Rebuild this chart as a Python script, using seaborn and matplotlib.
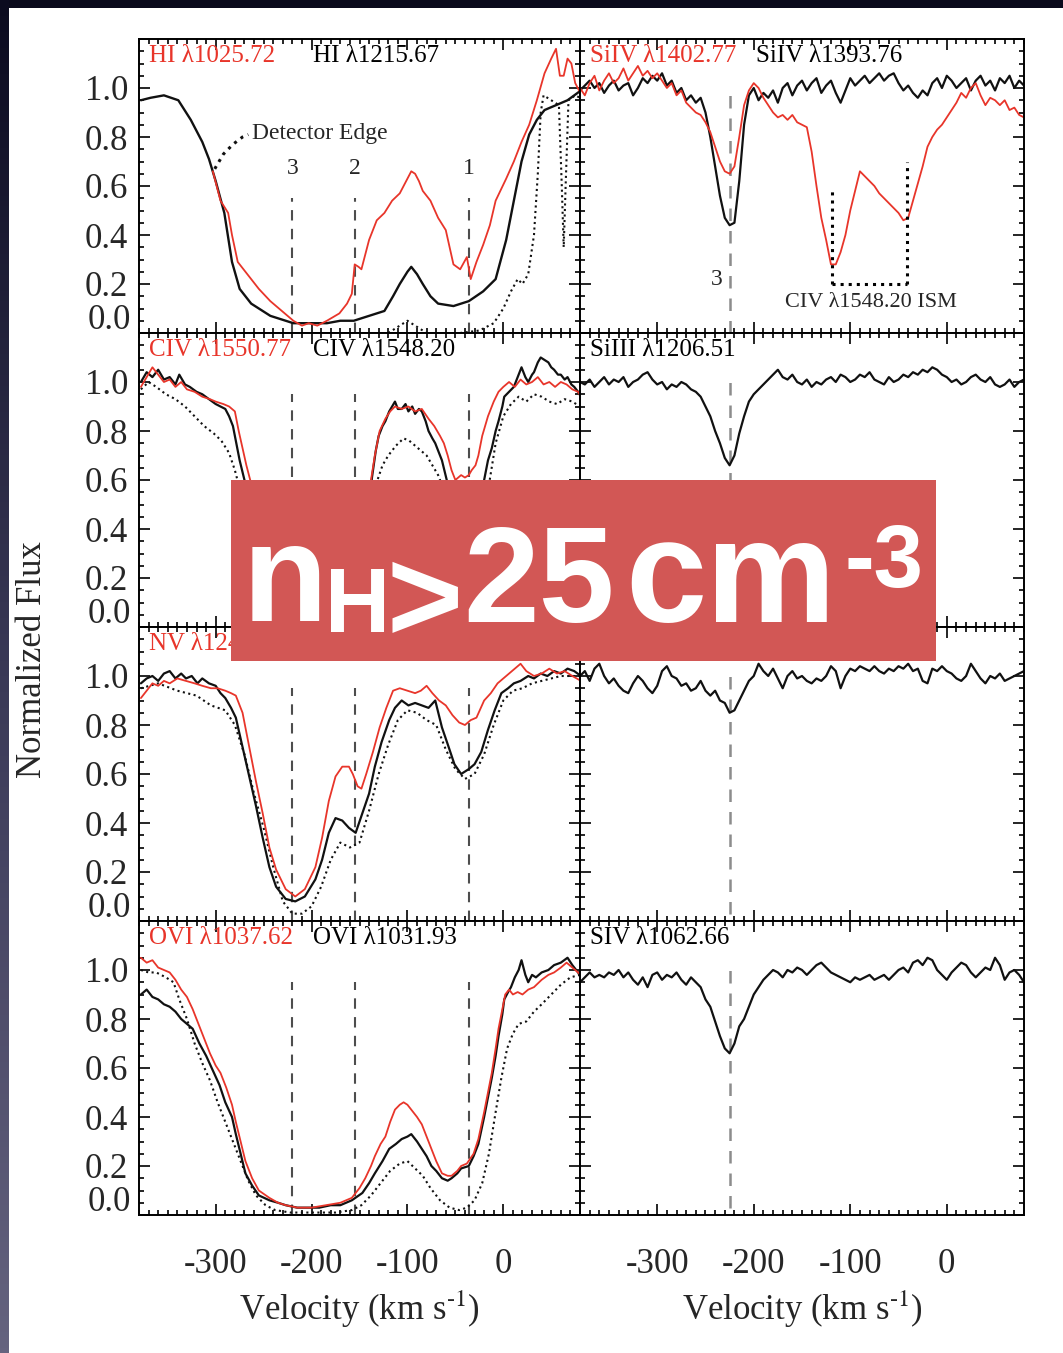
import numpy as np
import pandas as pd
import matplotlib
matplotlib.use("Agg")
import matplotlib.pyplot as plt
import seaborn as sns
from matplotlib.patches import Rectangle
from matplotlib.colors import LinearSegmentedColormap
from matplotlib.ticker import MultipleLocator, FixedLocator, FuncFormatter

# ---------------------------------------------------------------- data
v_grid_right = np.arange(-380, 81, 5)
component_v = [-220, -155, -36]
component_v_right = [-225]
component_names = ["3", "2", "1"]
x_ticks = [-300, -200, -100, 0]
y_ticks = [0.0, 0.2, 0.4, 0.6, 0.8, 1.0, 1.2]

# HI panel
hi_1215 = [(-378,0.95),(-368,0.96),(-354,0.97),(-339,0.95),(-326,0.87),(-314,0.78),(-307,0.71),(-300,0.62),
           (-291,0.49),(-283,0.29),(-275,0.18),(-263,0.12),(-243,0.07),(-219,0.04),(-200,0.04),(-184,0.04),
           (-170,0.05),(-156,0.05),(-140,0.07),(-124,0.09),(-115,0.15),(-108,0.20),(-100,0.25),(-96,0.27),
           (-90,0.24),(-84,0.20),(-76,0.15),(-68,0.12),(-52,0.11),(-36,0.13),(-21,0.17),(-8,0.22),(3,0.38),
           (11,0.54),(19,0.70),(27,0.81),(35,0.87),(43,0.91),(55,0.93),(67,0.95),(81,0.99)]
hi_1025 = [(-303,0.66),(-295,0.54),(-287,0.49),(-283,0.40),(-277,0.29),(-267,0.24),(-255,0.18),(-243,0.13),
           (-231,0.09),(-219,0.05),(-210,0.03),(-203,0.04),(-194,0.03),(-184,0.05),(-171,0.08),(-163,0.12),
           (-158,0.16),(-155,0.28),(-151,0.27),(-148,0.26),(-140,0.38),(-132,0.46),(-124,0.49),(-116,0.54),
           (-108,0.57),(-100,0.63),(-96,0.66),(-92,0.65),(-88,0.62),(-84,0.58),(-76,0.54),(-68,0.47),(-60,0.42),
           (-52,0.28),(-45,0.26),(-38,0.31),(-34,0.22),(-28,0.29),(-21,0.36),(-14,0.44),(-8,0.54),(3,0.63),
           (11,0.70),(19,0.78),(27,0.85),(35,0.95),(43,1.06),(50,1.12),(55,1.16),(59,1.05),(63,1.05),
           (67,1.12),(71,1.10),(75,1.02),(79,0.99)]
hi_other = [(-45,0.0),(-25,0.01),(-10,0.04),(0,0.10),(8,0.17),(15,0.22),(20,0.20),(26,0.24),(32,0.40),
            (36,0.65),(39,0.90),(42,0.97),(50,0.95),(58,0.93),(61,0.60),(63,0.35),(65,0.60),(68,0.95),
            (75,0.97),(80,0.96)]
hi_other_b = [(-120,0.0),(-108,0.03),(-100,0.05),(-92,0.03),(-80,0.0)]
detector_edge = [(-301,0.67),(-292,0.73),(-282,0.77),(-272,0.80),(-266,0.81)]

# SiIV panel
siiv_1393 = [0.99,1.01,1.03,1.00,1.02,0.98,1.01,1.03,0.99,1.01,
             1.02,0.97,1.00,1.04,1.02,1.05,1.03,1.06,1.01,1.03,
             0.98,1.00,0.95,0.97,0.94,0.96,0.90,0.80,0.68,0.56,
             0.47,0.44,0.45,0.62,0.85,0.97,1.00,0.95,0.98,0.96,
             0.99,0.94,1.00,1.02,0.97,1.01,1.03,0.99,1.02,1.04,
             0.98,1.01,1.03,0.98,0.94,0.99,1.04,1.01,1.03,1.05,
             1.02,1.04,1.06,1.03,1.05,1.06,1.02,0.99,1.01,0.98,
             0.96,0.99,0.97,1.02,1.04,1.00,1.05,1.03,1.00,1.02,
             1.04,0.99,1.03,1.05,1.01,1.03,0.99,1.04,1.02,1.05,
             1.00,1.03,1.01]
siiv_1402 = [1.00,0.97,1.02,1.05,0.99,1.03,1.06,1.02,1.04,1.08,
             1.03,1.06,1.09,1.05,1.07,1.04,1.06,1.03,1.00,1.02,
             0.97,0.99,0.94,0.92,0.90,0.89,0.86,0.82,0.76,0.70,
             0.66,0.65,0.68,0.80,0.93,0.99,1.02,1.00,0.96,0.93,
             0.90,0.88,0.89,0.87,0.89,0.86,0.85,0.84,0.74,0.60,
             0.47,0.38,0.28,0.28,0.33,0.40,0.50,0.58,0.66,0.64,
             0.62,0.60,0.57,0.55,0.53,0.51,0.49,0.46,0.47,0.54,
             0.61,0.68,0.76,0.80,0.83,0.85,0.88,0.91,0.94,0.98,
             0.96,1.00,1.02,0.97,0.93,0.96,0.95,0.93,0.95,0.91,
             0.92,0.89,0.88]
ism_v = [-119, -41]
ism_top = [0.58, 0.70]
ism_base = 0.20

# CIV panel
civ_1548 = [(-378,1.00),(-372,1.04),(-366,1.02),(-360,1.05),(-354,1.01),(-348,1.02),(-342,0.99),(-338,1.03),
            (-332,0.99),(-327,0.98),(-320,0.96),(-314,0.95),(-307,0.93),(-300,0.91),(-295,0.90),(-290,0.89),
            (-286,0.86),(-282,0.82),(-278,0.74),(-275,0.68),(-270,0.60),(-265,0.48),(-258,0.32),(-250,0.18),
            (-240,0.08),(-230,0.04),(-215,0.03),(-200,0.03),(-185,0.04),(-170,0.06),(-160,0.10),(-150,0.25),
            (-142,0.45),(-137,0.61),(-133,0.72),(-130,0.78),(-126,0.82),(-123,0.84),(-119,0.88),(-116,0.90),
            (-113,0.92),(-110,0.89),(-106,0.89),(-102,0.91),(-99,0.88),(-95,0.90),(-92,0.87),(-88,0.89),
            (-85,0.88),(-81,0.84),(-78,0.80),(-74,0.77),(-71,0.75),(-67,0.71),(-64,0.68),(-59,0.60),(-55,0.48),
            (-48,0.30),(-40,0.22),(-33,0.25),(-27,0.40),(-20,0.60),(-16,0.68),(-12,0.73),(-8,0.80),(-5,0.84),
            (-1,0.90),(1,0.94),(6,0.96),(11,0.98),(15,1.02),(19,1.06),(23,1.02),(26,1.00),(30,1.03),(32,1.04),
            (36,1.08),(39,1.10),(43,1.09),(47,1.08),(50,1.06),(53,1.05),(57,1.03),(60,1.03),(64,1.01),
            (67,1.02),(71,0.99),(74,0.98),(78,0.96),(81,0.94)]
civ_1550 = [(-378,0.98),(-372,1.02),(-366,1.06),(-360,1.03),(-354,1.00),(-348,1.01),(-342,0.98),(-336,1.00),
            (-330,0.97),(-322,0.96),(-314,0.94),(-306,0.93),(-300,0.92),(-292,0.91),(-286,0.90),(-280,0.88),
            (-276,0.80),(-272,0.73),(-268,0.66),(-264,0.60),(-258,0.45),(-250,0.28),(-240,0.12),(-230,0.05),
            (-215,0.03),(-200,0.03),(-185,0.04),(-170,0.06),(-158,0.12),(-148,0.32),(-140,0.55),(-134,0.70),
            (-129,0.80),(-123,0.85),(-118,0.88),(-113,0.90),(-106,0.89),(-99,0.90),(-92,0.88),(-85,0.89),
            (-78,0.85),(-72,0.82),(-66,0.78),(-62,0.75),(-58,0.70),(-54,0.64),(-50,0.60),(-44,0.62),(-40,0.61),
            (-36,0.62),(-33,0.64),(-29,0.66),(-26,0.70),(-22,0.78),(-16,0.86),(-10,0.92),(-5,0.96),(0,0.98),
            (6,1.00),(12,0.98),(18,1.01),(24,0.99),(30,1.00),(36,1.02),(42,0.99),(48,1.00),(54,0.98),
            (60,1.00),(66,0.99),(72,0.97),(78,0.96),(81,0.94)]
civ_other = [(-378,0.97),(-370,1.00),(-362,0.98),(-352,0.95),(-342,0.93),(-332,0.90),(-322,0.86),(-312,0.82),
             (-302,0.79),(-294,0.76),(-286,0.71),(-280,0.64),(-274,0.55),(-266,0.40),(-256,0.22),(-245,0.08),
             (-230,0.02),(-170,0.02),(-158,0.06),(-148,0.20),(-140,0.42),(-133,0.58),(-126,0.66),(-120,0.70),
             (-112,0.74),(-104,0.77),(-98,0.76),(-92,0.74),(-86,0.72),(-80,0.70),(-74,0.66),(-68,0.62),
             (-62,0.56),(-55,0.42),(-48,0.28),(-40,0.18),(-30,0.22),(-22,0.40),(-15,0.58),(-8,0.75),(0,0.86),
             (8,0.91),(16,0.94),(24,0.92),(32,0.95),(40,0.94),(48,0.92),(56,0.91),(64,0.93),(72,0.92),(80,0.90)]

# SiIII panel
siiii_1206 = [1.00,0.99,1.01,0.98,1.00,1.02,0.99,1.01,1.00,1.02,
              0.98,1.00,1.01,1.03,1.04,1.01,0.99,1.00,0.97,0.99,
              0.98,1.00,0.99,0.97,0.96,0.94,0.90,0.86,0.80,0.75,
              0.69,0.66,0.70,0.79,0.86,0.92,0.95,0.97,0.99,1.01,
              1.03,1.05,1.02,1.01,1.03,1.00,0.99,1.01,0.98,1.00,
              0.99,1.01,1.02,1.00,1.03,1.02,1.00,1.01,1.03,1.02,
              1.04,1.01,1.00,0.99,1.02,1.00,1.01,1.03,1.02,1.04,
              1.03,1.05,1.04,1.06,1.05,1.03,1.02,1.00,1.01,0.99,
              1.00,1.02,1.03,1.01,1.00,1.02,0.99,0.98,0.99,1.01,
              0.98,1.00,1.01]

# NV panel
nv_1238 = [(-378,0.97),(-372,0.99),(-366,1.00),(-360,0.98),(-354,1.01),(-348,1.02),(-342,0.99),(-336,1.01),
           (-331,0.99),(-325,1.00),(-319,0.97),(-314,0.99),(-307,0.97),(-300,0.96),(-295,0.93),(-290,0.91),
           (-284,0.87),(-279,0.83),(-272,0.71),(-265,0.59),(-258,0.47),(-251,0.34),(-244,0.22),(-237,0.14),
           (-227,0.09),(-217,0.08),(-207,0.10),(-196,0.17),(-189,0.25),(-182,0.36),(-175,0.42),(-168,0.41),
           (-161,0.38),(-154,0.36),(-147,0.44),(-140,0.52),(-134,0.63),(-127,0.73),(-119,0.82),(-113,0.87),
           (-106,0.90),(-99,0.88),(-92,0.89),(-85,0.88),(-78,0.87),(-71,0.90),(-64,0.79),(-57,0.71),(-51,0.64),
           (-44,0.60),(-36,0.62),(-30,0.64),(-23,0.69),(-16,0.78),(-9,0.86),(-2,0.93),(5,0.95),(11,0.97),
           (18,0.98),(26,1.00),(32,0.99),(39,1.01),(46,1.00),(53,1.02),(60,1.01),(67,1.03),(74,1.02),(81,1.00)]
nv_1242 = [(-378,0.91),(-372,0.94),(-366,0.97),(-360,0.96),(-354,0.98),(-348,0.97),(-340,0.99),(-331,0.98),
           (-322,0.97),(-314,0.96),(-305,0.95),(-298,0.95),(-290,0.94),(-284,0.93),(-279,0.92),(-275,0.88),
           (-272,0.85),(-265,0.71),(-258,0.57),(-251,0.44),(-244,0.30),(-237,0.21),(-227,0.13),(-217,0.10),
           (-207,0.13),(-196,0.22),(-189,0.34),(-182,0.49),(-175,0.59),(-168,0.63),(-161,0.63),(-157,0.60),
           (-152,0.55),(-148,0.54),(-143,0.60),(-136,0.69),(-129,0.79),(-122,0.87),(-115,0.94),(-108,0.95),
           (-100,0.94),(-92,0.93),(-86,0.94),(-80,0.96),(-74,0.93),(-67,0.90),(-60,0.88),(-53,0.84),(-46,0.81),
           (-40,0.80),(-34,0.82),(-28,0.83),(-20,0.90),(-13,0.93),(-6,0.97),(3,1.00),(12,1.03),(18,1.05),
           (24,1.02),(32,1.00),(40,1.01),(48,1.03),(56,1.01),(64,1.02),(72,1.00),(81,0.98)]
nv_other = [(-378,0.95),(-360,0.97),(-340,0.94),(-320,0.92),(-305,0.88),(-290,0.86),(-280,0.80),(-270,0.68),
            (-260,0.52),(-250,0.38),(-240,0.22),(-230,0.08),(-220,0.03),(-210,0.03),(-200,0.06),(-190,0.14),
            (-180,0.25),(-170,0.32),(-160,0.30),(-150,0.32),(-140,0.45),(-130,0.60),(-120,0.72),(-110,0.82),
            (-100,0.86),(-90,0.85),(-80,0.82),(-70,0.80),(-60,0.70),(-50,0.62),(-40,0.58),(-30,0.60),
            (-20,0.68),(-10,0.80),(0,0.90),(10,0.94),(20,0.95),(30,0.97),(40,0.98),(60,1.00),(80,1.00)]

# row 3, right panel (its label is covered in the reference)
row3_right = [1.00,1.02,0.98,1.03,1.05,1.00,0.97,0.99,0.96,0.94,
              0.93,0.97,1.00,0.98,0.95,0.93,0.96,1.02,1.04,1.00,
              0.99,0.96,0.97,0.94,0.95,0.98,0.94,0.92,0.94,0.90,
              0.89,0.85,0.86,0.90,0.94,0.98,1.00,1.05,1.02,1.00,
              1.03,0.99,0.95,1.00,1.02,0.99,1.00,0.98,0.97,0.99,
              0.98,1.00,1.04,1.02,0.95,1.00,1.03,1.02,1.04,1.03,
              1.02,1.04,1.02,1.01,1.03,1.02,1.04,1.03,1.05,1.02,
              1.03,0.98,0.97,1.03,1.02,1.04,1.02,1.01,0.99,0.98,
              1.00,1.05,1.02,0.99,0.97,1.00,0.99,1.01,0.98,0.99,
              1.00,1.01,1.02]

# OVI panel
ovi_1031 = [(-378,0.90),(-372,0.92),(-366,0.89),(-360,0.88),(-354,0.86),(-348,0.85),(-342,0.83),(-336,0.80),
            (-330,0.78),(-324,0.76),(-317,0.70),(-310,0.65),(-303,0.59),(-296,0.53),(-290,0.46),(-283,0.40),
            (-279,0.33),(-274,0.25),(-269,0.17),(-262,0.12),(-255,0.08),(-244,0.06),(-235,0.05),(-227,0.04),
            (-215,0.03),(-200,0.03),(-192,0.03),(-180,0.04),(-170,0.04),(-158,0.06),(-147,0.09),(-140,0.13),
            (-134,0.17),(-126,0.22),(-119,0.27),(-112,0.29),(-106,0.31),(-100,0.32),(-96,0.33),(-90,0.30),
            (-85,0.27),(-80,0.24),(-75,0.20),(-70,0.18),(-64,0.15),(-58,0.14),(-54,0.15),(-48,0.17),(-44,0.19),
            (-36,0.20),(-31,0.24),(-26,0.29),(-20,0.40),(-16,0.48),(-12,0.56),(-8,0.65),(-5,0.73),(-1,0.82),
            (1,0.88),(5,0.91),(8,0.93),(12,0.97),(16,1.00),(19,1.04),(23,0.98),(26,0.95),(30,0.98),(34,0.97),
            (40,0.99),(47,1.00),(53,1.02),(60,1.03),(67,1.05),(72,1.02),(78,0.99),(81,0.97)]
ovi_1037 = [(-378,1.05),(-372,1.03),(-366,1.04),(-360,1.01),(-354,1.00),(-348,0.99),(-342,0.96),(-336,0.92),
            (-330,0.89),(-324,0.84),(-318,0.78),(-312,0.72),(-306,0.66),(-300,0.61),(-295,0.58),(-289,0.52),
            (-283,0.45),(-279,0.38),(-274,0.30),(-269,0.22),(-262,0.15),(-255,0.10),(-244,0.07),(-235,0.05),
            (-227,0.04),(-215,0.03),(-200,0.03),(-185,0.04),(-170,0.05),(-158,0.07),(-150,0.11),(-144,0.15),
            (-138,0.20),(-134,0.24),(-128,0.29),(-123,0.32),(-118,0.38),(-113,0.43),(-108,0.45),(-104,0.46),
            (-100,0.45),(-96,0.43),(-90,0.40),(-85,0.37),(-80,0.32),(-75,0.27),(-70,0.22),(-64,0.17),(-58,0.16),
            (-54,0.16),(-48,0.18),(-44,0.20),(-38,0.21),(-31,0.25),(-26,0.31),(-20,0.42),(-16,0.50),(-12,0.58),
            (-8,0.68),(-5,0.76),(-1,0.84),(2,0.90),(6,0.92),(10,0.90),(15,0.91),(20,0.90),(26,0.92),(32,0.93),
            (40,0.96),(47,0.98),(53,0.99),(60,1.01),(66,1.03),(72,1.01),(78,0.99),(81,0.98)]
ovi_other = [(-378,1.00),(-370,0.99),(-362,0.99),(-352,0.97),(-344,0.95),(-338,0.88),(-330,0.80),(-322,0.70),
             (-314,0.62),(-306,0.55),(-298,0.46),(-290,0.38),(-282,0.30),(-274,0.22),(-266,0.14),(-258,0.08),
             (-248,0.04),(-238,0.02),(-222,0.01),(-200,0.01),(-175,0.01),(-158,0.02),(-148,0.04),(-138,0.08),
             (-128,0.13),(-118,0.18),(-108,0.21),(-100,0.22),(-92,0.19),(-84,0.16),(-76,0.11),(-66,0.06),
             (-56,0.03),(-46,0.02),(-38,0.03),(-30,0.06),(-22,0.13),(-15,0.25),(-8,0.42),(-2,0.56),(4,0.68),
             (10,0.74),(16,0.78),(24,0.79),(32,0.83),(40,0.86),(50,0.90),(60,0.94),(70,0.97),(80,0.98)]

# SIV panel
siv_1062 = [0.95,0.97,0.99,0.97,0.98,0.97,0.99,0.98,1.00,0.97,
            0.99,0.96,0.94,0.97,0.93,0.98,0.99,0.96,0.98,0.97,
            0.99,0.96,0.94,0.97,0.95,0.93,0.88,0.85,0.79,0.73,
            0.68,0.66,0.70,0.77,0.80,0.85,0.90,0.93,0.96,0.98,
            1.00,0.99,0.97,1.00,0.99,1.01,1.00,0.98,1.00,1.02,
            1.03,1.01,0.99,0.98,0.97,0.96,0.95,0.97,0.96,0.97,
            0.98,0.96,0.97,0.98,0.96,0.98,1.00,1.01,0.99,1.03,
            1.04,1.02,1.05,1.04,1.00,0.98,0.96,0.99,1.01,1.03,
            1.02,0.99,0.97,0.99,1.01,1.00,1.05,1.02,0.96,0.99,
            1.00,0.98,0.95]

# panel labels: (red label, black label); None where nothing is visible
labels = {
    (0, 0): ("HI λ1025.72", "HI λ1215.67"),
    (0, 1): ("SiIV λ1402.77", "SiIV λ1393.76"),
    (1, 0): ("CIV λ1550.77", "CIV λ1548.20"),
    (1, 1): (None, "SiIII λ1206.51"),
    (2, 0): ("NV λ1242.80", None),
    (3, 0): ("OVI λ1037.62", "OVI λ1031.93"),
    (3, 1): (None, "SIV λ1062.66"),
}

# ---------------------------------------------------------------- style
sns.set_theme(style="ticks")
plt.rcParams["font.family"] = ["Liberation Serif", "DejaVu Serif"]
plt.rcParams["mathtext.fontset"] = "stix"
plt.rcParams["axes.unicode_minus"] = False

RED = "#E8352A"
BLACK = "#111111"

W, H, DPI = 1063, 1353, 100
fig = plt.figure(figsize=(W / DPI, H / DPI), dpi=DPI, facecolor="white")

def fx(px):
    return px / W

def fy(py):
    return 1 - py / H

col_x = [(139, 580), (580, 1024)]
row_y = [39, 333, 627, 921, 1215]


def draw(ax, pairs=None, v=None, f=None, color=BLACK, lw=1.6, ls="-"):
    if pairs is not None:
        df = pd.DataFrame(pairs, columns=["v", "f"])
    else:
        df = pd.DataFrame({"v": v, "f": f})
    sns.lineplot(data=df, x="v", y="f", ax=ax, color=color, lw=lw, linestyle=ls,
                 estimator=None, sort=False, legend=False)
    ax.set_xlabel("")
    ax.set_ylabel("")


axes = {}
for r in range(4):
    for c in range(2):
        x0, x1 = col_x[c]
        y0, y1 = row_y[r], row_y[r + 1]
        ax = fig.add_axes([fx(x0), fy(y1), (x1 - x0) / W, (y1 - y0) / H])
        axes[(r, c)] = ax

# ---------------------------------------------------------------- reference lines
for r in range(4):
    ax = axes[(r, 0)]
    top = 0.55 if r == 0 else 0.95
    ax.vlines(component_v, 0.0, top, colors="0.3", linestyles=(0, (5, 4)), lw=1.5, zorder=1)
    axr = axes[(r, 1)]
    axr.vlines(component_v_right, 0.03 if r else 0.0, 1.0, colors="0.55",
               linestyles=(0, (5, 4)), lw=1.8, zorder=1)

# ---------------------------------------------------------------- spectra
ax = axes[(0, 0)]
draw(ax, hi_other, ls=":", lw=1.5)
draw(ax, hi_other_b, ls=":", lw=1.5)
draw(ax, detector_edge, ls=":", lw=2.2)
draw(ax, hi_1215, lw=1.7)
draw(ax, hi_1025, color=RED, lw=1.3)
ax.text(-262, 0.815, "Detector Edge", fontsize=17, ha="left", va="center")
for cv, name in zip(component_v, component_names):
    ax.text(cv, 0.67, name, fontsize=17, ha="center", va="center")

ax = axes[(0, 1)]
draw(ax, v=v_grid_right, f=siiv_1393, lw=1.6)
draw(ax, v=v_grid_right, f=siiv_1402, color=RED, lw=1.3)
ax.vlines(ism_v, ism_base, ism_top, colors="black", linestyles=":", lw=2.2)
ax.hlines(ism_base, ism_v[0], ism_v[1], colors="black", linestyles=":", lw=2.2)
ax.text(-79, 0.125, "CIV λ1548.20 ISM", fontsize=16, ha="center", va="center")
ax.text(-238, 0.22, "3", fontsize=17, ha="center", va="center")

ax = axes[(1, 0)]
draw(ax, civ_other, ls=":", lw=1.5)
draw(ax, civ_1548, lw=1.6)
draw(ax, civ_1550, color=RED, lw=1.3)

ax = axes[(1, 1)]
draw(ax, v=v_grid_right, f=siiii_1206, lw=1.6)

ax = axes[(2, 0)]
draw(ax, nv_other, ls=":", lw=1.5)
draw(ax, nv_1238, lw=1.6)
draw(ax, nv_1242, color=RED, lw=1.3)

ax = axes[(2, 1)]
draw(ax, v=v_grid_right, f=row3_right, lw=1.6)

ax = axes[(3, 0)]
draw(ax, ovi_other, ls=":", lw=1.5)
draw(ax, ovi_1031, lw=1.6)
draw(ax, ovi_1037, color=RED, lw=1.3)

ax = axes[(3, 1)]
draw(ax, v=v_grid_right, f=siv_1062, lw=1.6)

# ---------------------------------------------------------------- axes styling
for (r, c), ax in axes.items():
    ax.set_xlim(-380, 80)
    ax.set_ylim(0.0, 1.2)
    ax.set_xlabel("")
    ax.set_ylabel("")
    ax.xaxis.set_major_locator(FixedLocator(x_ticks))
    ax.xaxis.set_minor_locator(MultipleLocator(10))
    ax.yaxis.set_major_locator(FixedLocator(y_ticks))
    ax.yaxis.set_minor_locator(MultipleLocator(0.05))
    ax.tick_params(which="both", direction="in", top=True, right=True,
                   width=1.2, color="black")
    ax.tick_params(which="major", length=8)
    ax.tick_params(which="minor", length=3.5)
    ax.tick_params(axis="y", labelsize=25, pad=8)
    ax.tick_params(axis="x", labelsize=25, pad=24)
    for s in ax.spines.values():
        s.set_linewidth(1.4)
        s.set_color("black")
    if c == 0:
        ax.yaxis.set_major_formatter(FuncFormatter(
            lambda val, pos: "" if (val < 0.1 or val > 1.1) else f"{val:.1f}"))
        ax.annotate("0.0", xy=(0, 0.0), xycoords=("axes fraction", "data"),
                    xytext=(-6, 9), textcoords="offset points",
                    ha="right", va="center", fontsize=25)
    else:
        ax.yaxis.set_major_formatter(FuncFormatter(lambda val, pos: ""))
    if r < 3:
        ax.xaxis.set_major_formatter(FuncFormatter(lambda val, pos: ""))
    else:
        ax.xaxis.set_major_formatter(FuncFormatter(lambda val, pos: f"{val:.0f}"))

# panel labels
for (r, c), (red_lab, blk_lab) in labels.items():
    ax = axes[(r, c)]
    if red_lab:
        ax.text(-370, 1.13, red_lab, color=RED, fontsize=18, ha="left", va="center")
        if blk_lab:
            ax.text(-198, 1.13, blk_lab, color="black", fontsize=18, ha="left", va="center")
    elif blk_lab:
        ax.text(-370, 1.13, blk_lab, color="black", fontsize=18, ha="left", va="center")

# axis titles
fig.text(fx(33), fy(660), "Normalized Flux", rotation=90, fontsize=25, ha="center", va="center")
for cx in (359, 802):
    fig.text(fx(cx), fy(1309), r"Velocity (km s$^{\text{-1}}$)", fontsize=25, ha="center", va="center")

# ---------------------------------------------------------------- overlay box
fig.add_artist(Rectangle((fx(231), fy(661)), (936 - 231) / W, (661 - 480) / H,
                         transform=fig.transFigure, facecolor="#D25755", edgecolor="none", zorder=10))
bold = dict(color="white", fontweight="bold", family=["Liberation Sans", "DejaVu Sans"],
            ha="left", va="baseline", zorder=11)
fig.text(fx(243), fy(621), "n", fontsize=100, **bold)
fig.text(fx(325), fy(632), "H", fontsize=65, **bold)
fig.text(fx(387), fy(641), ">", fontsize=94, **bold)
fig.text(fx(463), fy(622), "25", fontsize=98, **bold)
fig.text(fx(625), fy(622), "cm", fontsize=105, **bold)
fig.text(fx(845), fy(587), "-3", fontsize=64, **bold)

# ---------------------------------------------------------------- dark frame edges
fig.add_artist(Rectangle((0, fy(8)), 1, 8 / H, transform=fig.transFigure,
                         facecolor="#0a0a1c", edgecolor="none", zorder=12))
strip = fig.add_axes([0, 0, 9 / W, 1], zorder=12)
grad = np.linspace(0, 1, 256).reshape(-1, 1)
cmap = LinearSegmentedColormap.from_list("edge", ["#0b0b1f", "#3a3957", "#65637f"])
strip.imshow(grad, aspect="auto", cmap=cmap, origin="upper", extent=[0, 1, 0, 1])
strip.set_axis_off()

fig.savefig("out.png", dpi=DPI, facecolor="white")
